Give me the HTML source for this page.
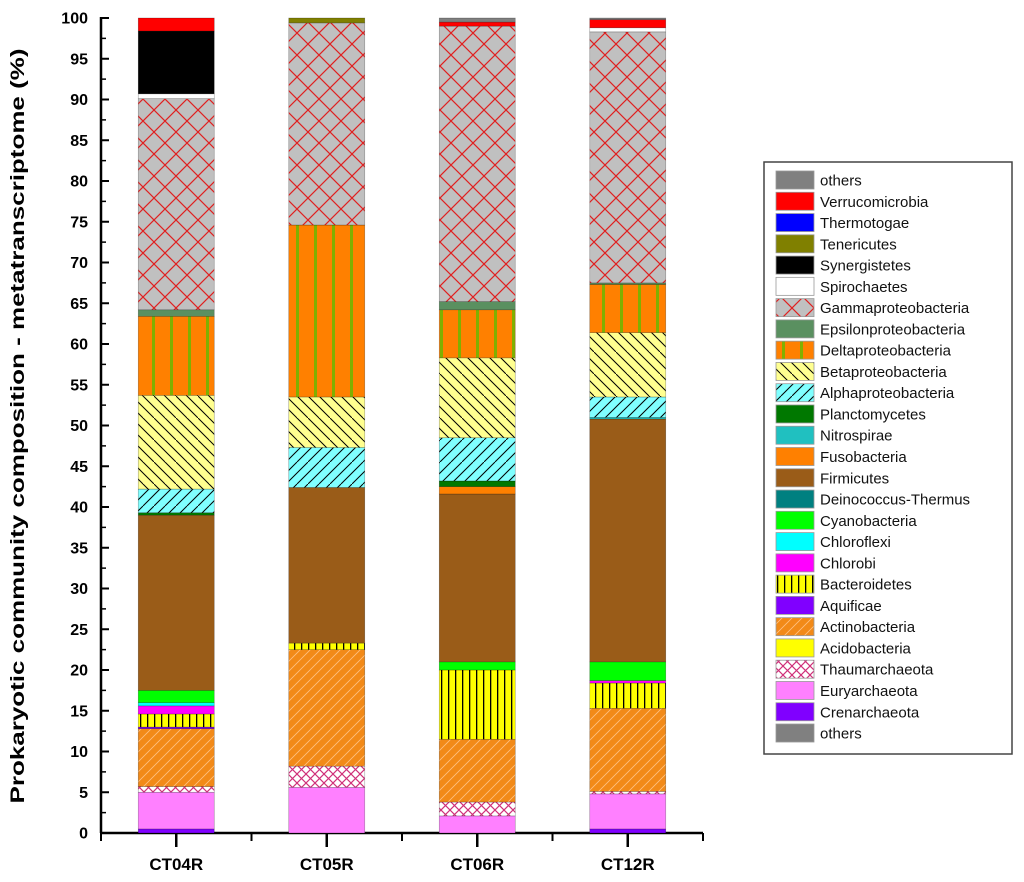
<!DOCTYPE html>
<html><head><meta charset="utf-8"><style>
body{margin:0;background:#fff;}
svg{display:block;font-family:"Liberation Sans",Arial,sans-serif;}
</style></head><body>
<svg id="chart" width="1024" height="882" viewBox="0 0 1024 882" xmlns="http://www.w3.org/2000/svg">
<defs>
<pattern id="p-gamma" patternUnits="userSpaceOnUse" width="22" height="22"><rect width="22" height="22" fill="#c0c0c0"/><path d="M0 0L22 22M22 0L0 22" stroke="#e02020" stroke-width="1.2"/></pattern>
<pattern id="p-delta" patternUnits="userSpaceOnUse" width="18" height="10"><rect width="18" height="10" fill="#ff8000"/><rect x="8" width="3" height="10" fill="#80b000"/></pattern>
<pattern id="p-beta" patternUnits="userSpaceOnUse" width="22" height="22"><rect width="22" height="22" fill="#ffff90"/><path d="M-11 0L11 22M0 0L22 22M11 0L33 22M0 -11L11 0" stroke="#000" stroke-width="1"/></pattern>
<pattern id="p-alpha" patternUnits="userSpaceOnUse" width="22" height="22"><rect width="22" height="22" fill="#80ffff"/><path d="M0 22L22 0M-11 22L11 0M11 22L33 0" stroke="#000" stroke-width="1"/></pattern>
<pattern id="p-bact" patternUnits="userSpaceOnUse" width="7" height="10"><rect width="7" height="10" fill="#ffff00"/><rect x="0" width="1.3" height="10" fill="#000"/></pattern>
<pattern id="p-actino" patternUnits="userSpaceOnUse" width="10" height="10"><rect width="10" height="10" fill="#f28a18"/><path d="M0 10L10 0M-5 5L5 -5M5 15L15 5" stroke="#ffc080" stroke-width="0.8"/></pattern>
<pattern id="p-thaum" patternUnits="userSpaceOnUse" width="9" height="9"><rect width="9" height="9" fill="#fff"/><path d="M0 0L9 9M9 0L0 9" stroke="#d0307a" stroke-width="1.2"/></pattern>
</defs>
<g id="axes"></g>
<g id="bars"></g>
<g id="legend"></g>
</svg>
<script>
const categories = ["CT04R","CT05R","CT06R","CT12R"];
const taxa = ["others-bottom","Crenarchaeota","Euryarchaeota","Thaumarchaeota","Acidobacteria","Actinobacteria","Aquificae","Bacteroidetes","Chlorobi","Chloroflexi","Cyanobacteria","Deinococcus-Thermus","Firmicutes","Fusobacteria","Nitrospirae","Planctomycetes","Alphaproteobacteria","Betaproteobacteria","Deltaproteobacteria","Epsilonproteobacteria","Gammaproteobacteria","Spirochaetes","Synergistetes","Tenericutes","Thermotogae","Verrucomicrobia","others"];
const fills = ["#808080","#8000ff","#ff80ff","url(#p-thaum)","#ffff00","url(#p-actino)","#8000ff","url(#p-bact)","#ff00ff","#00ffff","#00ff00","#008080","#9a5c18","#ff8000","#20c0c0","#007800","url(#p-alpha)","url(#p-beta)","url(#p-delta)","#5a9060","url(#p-gamma)","#ffffff","#000000","#808000","#0000ff","#ff0000","#808080"];
// values per sample, same order as taxa (percent)
const vCT04R = [0,0.5,4.5,0.7,0,7.1,0.2,1.6,1.0,0.4,1.5,0,21.5,0,0,0.3,2.9,11.5,9.7,0.8,25.9,0.6,7.7,0,0,1.6,0];
const vCT05R = [0,0,5.6,2.6,0,14.3,0,0.8,0,0,0,0,19.1,0,0,0,4.9,6.2,21.1,0,24.8,0,0,0.6,0,0,0];
const vCT06R = [0,0,2.1,1.7,0,7.7,0,8.5,0,0,1.0,0,20.6,0.9,0,0.7,5.3,9.8,5.9,1.0,33.8,0,0,0,0,0.5,0.5];
const vCT12R = [0,0.5,4.3,0.3,0,10.2,0,3.1,0.3,0,2.3,0,29.8,0,0.2,0,2.5,7.9,5.9,0.2,30.8,0.5,0,0,0,1.0,0.2];
const series = [vCT04R,vCT05R,vCT06R,vCT12R];
const yTicks = [0,5,10,15,20,25,30,35,40,45,50,55,60,65,70,75,80,85,90,95,100];

const NS="http://www.w3.org/2000/svg";
const X0=101, X1=703, Y0=833, Y1=18, BW=76;
const y = v => Y0 - (v/100)*(Y0-Y1);
const xc = i => X0 + (X1-X0)*(i+0.5)/categories.length;
function mk(t,a,p){const e=document.createElementNS(NS,t);for(const k in a)e.setAttribute(k,a[k]);p.appendChild(e);return e;}

const axes=document.getElementById('axes');
const yl=mk('line',{x1:X0,y1:Y1-1,x2:X0,y2:Y0,stroke:'#000','stroke-width':2.5},axes);


const xl=mk('line',{x1:X0-1,y1:Y0,x2:X1,y2:Y0,stroke:'#000','stroke-width':2.5},axes);


yTicks.forEach(t=>{
  mk('line',{x1:X0,y1:y(t),x2:X0+8,y2:y(t),stroke:'#000','stroke-width':2},axes);
  if(t<100) mk('line',{x1:X0,y1:y(t+2.5),x2:X0+5,y2:y(t+2.5),stroke:'#000','stroke-width':1.5},axes);
  const tx=mk('text',{x:88,y:y(t)+5.5,'text-anchor':'end','font-size':16,'font-weight':'bold'},axes);
  tx.textContent=t;
  
  
});
categories.forEach((c,i)=>{
  mk('line',{x1:xc(i),y1:Y0,x2:xc(i),y2:Y0+14,stroke:'#000','stroke-width':2.5},axes);
  const bx=X0+(X1-X0)*(i+1)/categories.length;
  mk('line',{x1:bx,y1:Y0,x2:bx,y2:Y0+8,stroke:'#000','stroke-width':2},axes);
  const tx=mk('text',{x:xc(i),y:870,'text-anchor':'middle','font-size':17,'font-weight':'bold'},axes);
  tx.textContent=c;
  
  
});
mk('line',{x1:X0,y1:Y0,x2:X0,y2:Y0+8,stroke:'#000','stroke-width':2},axes);
const yt=mk('text',{x:0,y:0,transform:'translate(24,426) rotate(-90)','text-anchor':'middle','font-size':19,'font-weight':'bold',textLength:755,lengthAdjust:'spacingAndGlyphs'},axes);
yt.textContent='Prokaryotic community composition - metatranscriptome (%)';



const bars=document.getElementById('bars');
series.forEach((vals,i)=>{
  let cum=0;
  vals.forEach((v,k)=>{
    if(v<=0){return;}
    const r=mk('rect',{x:xc(i)-BW/2,y:y(cum+v),width:BW,height:y(cum)-y(cum+v),fill:fills[k],stroke:'rgba(0,0,0,0.35)','stroke-width':0.6},bars);
    
    
    cum+=v;
  });
});

const lg=document.getElementById('legend');
const box=mk('rect',{x:764,y:162,width:248,height:592,fill:'#fff',stroke:'#444','stroke-width':1.5},lg);


for(let j=0;j<taxa.length;j++){
  const k=taxa.length-1-j;
  const cy=180+j*21.27;
  const s=mk('rect',{x:776,y:cy-9,width:38,height:18,fill:fills[k],stroke:'#999','stroke-width':0.8},lg);
  
  
  const t=mk('text',{x:820,y:cy+5.5,'font-size':15,fill:'#111'},lg);
  t.textContent=taxa[k]==='others-bottom'?'others':taxa[k];
  
  
}
</script>
</body></html>
